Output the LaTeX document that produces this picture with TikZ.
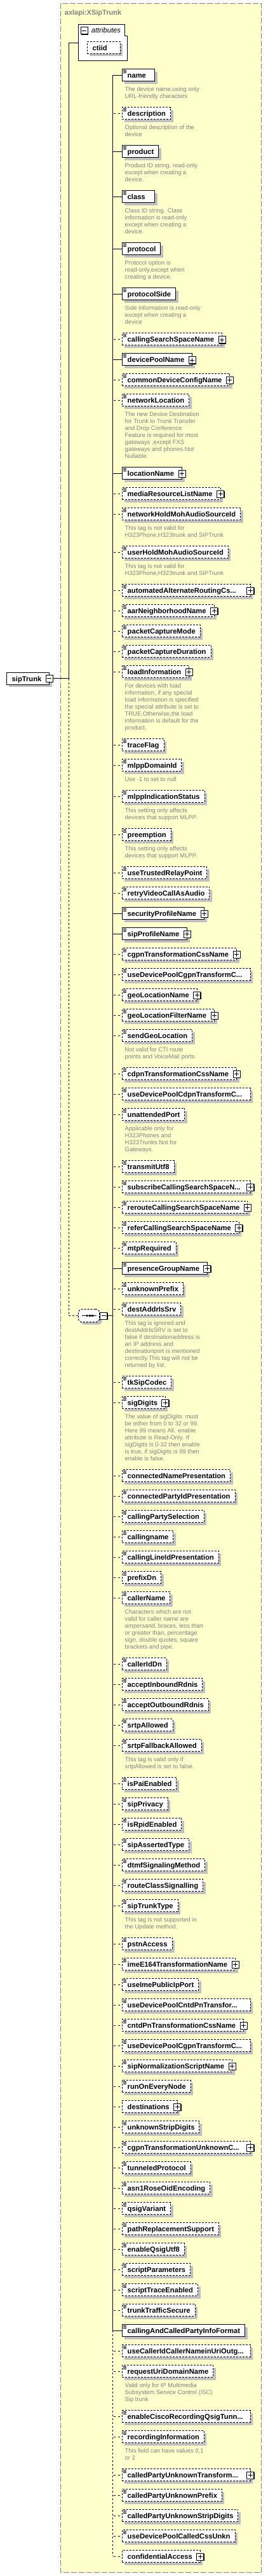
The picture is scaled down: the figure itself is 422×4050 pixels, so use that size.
\documentclass[tikz,border=0pt]{standalone}
\usepackage{fontspec}
\setmainfont{Liberation Sans}
\usetikzlibrary{shadows}
\definecolor{bgy}{RGB}{255,255,204}
\definecolor{shd}{RGB}{192,192,192}
\definecolor{anng}{RGB}{128,128,128}
\definecolor{brd}{RGB}{128,128,128}
\newlength\elw
\newcommand\eltext[3]{\settowidth\elw{\hspace*{8.4pt}#1\hspace*{#2}}\ifdim\elw<#3\relax\elw=#3\relax\fi\makebox[\elw][l]{\hspace*{8.4pt}#1}}
\tikzset{
 elem/.style={draw, fill=white, line width=1pt, anchor=west, minimum height=19pt, inner sep=0pt, outer sep=0pt, text height=8.6pt, text depth=0pt, font=\fontsize{11.2}{13}\selectfont\bfseries, drop shadow={shadow xshift=4pt, shadow yshift=-4pt, fill=shd, opacity=1}},
 elS/.style={},
 elD/.style={dash pattern=on 3pt off 2pt},
 cS/.style={line width=1pt},
 cD/.style={line width=1pt, dash pattern=on 3pt off 4pt, dash phase=5.5pt},
 vdash/.style={line width=1pt, dash pattern=on 3pt off 3pt},
 annot/.style={anchor=north west, inner sep=0pt, outer sep=0pt, align=left, text=anng, font=\fontsize{9.4}{11}\selectfont},
 pmbox/.style={fill=white, draw=black, line width=1pt},
 outerbox/.style={fill=bgy, draw=brd, line width=1pt, dash pattern=on 9pt off 3pt},
}
\newcommand\xplus[1]{%
 \fill[black] ([yshift=-0.7pt]#1.east) ++(-4.5,-6.5) rectangle ++(11,11);
 \draw[pmbox] ([yshift=-0.7pt]#1.east) ++(-5.5,-5.5) rectangle ++(11,11);
 \draw[line width=1pt] ([yshift=-0.7pt]#1.east) ++(-3.5,0) -- ++(7,0);
 \draw[line width=1pt] ([yshift=-0.7pt]#1.east) ++(0,-3.5) -- ++(0,7);}
\newcommand\xminus[1]{%
 \fill[black] #1 ++(-4.5,-6.5) rectangle ++(11,11);
 \draw[pmbox] #1 ++(-5.5,-5.5) rectangle ++(11,11);
 \draw[line width=1pt] #1 ++(-3.5,0) -- ++(7,0);}
\newcommand\xicon[1]{\foreach \k in {1.8,3.6,5.4}{\draw[line width=0.8pt] ([xshift=1.7pt,yshift=-\k pt]#1.north west) -- ++(5.3,0);}}
\def\kdN{\def\padR{7.5pt}\def\minW{51.4pt}\def\pf{N}}
\def\kdP{\def\padR{12.5pt}\def\minW{51.4pt}\def\pf{P}}
\def\kdT{\def\padR{7.5pt}\def\minW{201.7pt}\def\pf{N}}
\def\kdQ{\def\padR{7.5pt}\def\minW{201.7pt}\def\pf{P}}
\def\pbN#1{}
\def\pbP#1{\xplus{#1}}
\def\icI#1{\xicon{#1}}
\def\icX#1{}
\newcommand\xel[6][I]{%
 \csname kd#5\endcsname
 \node[elem, el#4] (#2) at (192.3,-#3) {\eltext{#6}{\padR}{\minW}};
 \draw[c#4] (#2.west -| bus) -- (#2.west);
 \csname pb\pf\endcsname{#2}%
 \csname ic#1\endcsname{#2}%
}
\newcommand\xann[3]{\node[annot] (#1) at (196.7,{-(#2+17.3)}) {\rule{0pt}{8pt}#3};}
\begin{document}
\begin{tikzpicture}[x=1pt,y=1pt]
\useasboundingbox (0,0) rectangle (422,-4050);
\draw[outerbox] (95.3,-5.3) rectangle (411.7,-4044.7);
\node[anchor=base west, inner sep=0pt, text=anng, font=\fontsize{11}{13}\selectfont\bfseries] (title) at (101.7,-23.3) {axlapi:XSipTrunk};
% attributes
\node[minimum width=77.4pt, minimum height=57.4pt, inner sep=0pt, outer sep=0pt, anchor=north west] (attr) at (123.3,-38.3) {};
\draw[fill=white, line width=1pt] (attr.south west) |- ([xshift=-4pt]attr.north east) |- ([yshift=-18.4pt]attr.north east) -- (attr.south east) -- cycle;
\xminus{(132.7,-48)}
\node[anchor=base west, inner sep=0pt, font=\fontsize{11.2}{13}\selectfont\itshape] (attrlbl) at (143.7,-51.7) {attributes};
\node[elem, elD] (ctiid) at (137.3,-74.8) {\eltext{ctiid}{7.5pt}{51.7pt}};
% root
\coordinate (busA) at (108.3,-67);
\coordinate (bus) at (177.7,-118);
\node[elem] (root) at (10.3,-1066.8) {\eltext{sipTrunk}{12.5pt}{0pt}};
\node[draw, fill=white, line width=1pt, dash pattern=on 3pt off 2pt, minimum width=33.4pt, minimum height=20.4pt, inner sep=0pt, outer sep=0pt, rounded corners=6pt, drop shadow={shadow xshift=4pt, shadow yshift=-4pt, fill=shd, opacity=1}] (seq) at (140,-2068.5) {};
\draw[line width=1pt] (busA) -- (attr.west);
\draw[line width=1pt] (busA) -- (busA |- root.east);
\draw[line width=1pt] (root.east) -- (root.east -| busA);
\draw[vdash] (busA |- root.east) -- (busA |- seq.west);
\draw[vdash] (seq.west -| busA) -- (seq.west);
\draw[line width=1pt] (seq.east) -- (seq.east -| bus);
\xminus{(root.east)}
\draw[line width=1pt] ([xshift=-11.3pt]seq.center) -- ([xshift=11.7pt]seq.center);
\foreach \d in {-3,1.3,5.6}{\fill ([xshift=\d pt]seq.center) ++(-1.4,-1.4) rectangle ++(2.8,2.8);}
\xminus{(163.2,-2068.5)}
% children
\xel{e1}{118}{S}{N}{name}
\xann{a1}{118}{The device name,using only\\URL-friendly characters}
\xel{e2}{178.3}{D}{N}{description}
\xann{a2}{178.3}{Optional description of the\\device}
\xel{e3}{238}{S}{N}{product}
\xann{a3}{238}{Product ID string, read-only\\except when creating a\\device.}
\xel{e4}{309.3}{S}{N}{class}
\xann{a4}{309.3}{Class ID string. Class\\information is read-only\\except when creating a\\device.}
\xel{e5}{391}{S}{N}{protocol}
\xann{a5}{391}{Protocol option is\\read-only,except when\\creating a device.}
\xel{e6}{462}{S}{N}{protocolSide}
\xann{a6}{462}{Side information is read-only\\except when creating a\\device}
\xel{e7}{533.3}{D}{P}{callingSearchSpaceName}
\xel{e8}{565.3}{S}{P}{devicePoolName}
\xel{e9}{597}{D}{P}{commonDeviceConfigName}
\xel{e10}{629}{D}{N}{networkLocation}
\xann{a10}{629}{The new Device Destination\\for Trunk to Trunk Transfer\\and Drop Conference\\Feature is required for most\\gateways ,except FXS\\gateways and phones.Not\\Nullable.}
\xel{e11}{744}{S}{P}{locationName}
\xel{e12}{776}{D}{P}{mediaResourceListName}
\xel{e13}{808}{D}{N}{networkHoldMohAudioSourceId}
\xann{a13}{808}{This tag is not valid for\\H323Phone,H323trunk and SIPTrunk}
\xel{e14}{868}{D}{N}{userHoldMohAudioSourceId}
\xann{a14}{868}{This tag is not valid for\\H323Phone,H323trunk and SIPTrunk}
\xel{e15}{928}{D}{Q}{automatedAlternateRoutingCs...}
\xel{e16}{960}{D}{P}{aarNeighborhoodName}
\xel{e17}{992}{D}{N}{packetCaptureMode}
\xel{e18}{1024}{D}{N}{packetCaptureDuration}
\xel{e19}{1056}{D}{P}{loadInformation}
\xann{a19}{1056}{For devices with load\\information, if any special\\load information is specified\\the special attribute is set to\\TRUE.Otherwise,the load\\information is default for the\\product.}
\xel{e20}{1171}{D}{N}{traceFlag}
\xel{e21}{1203}{D}{N}{mlppDomainId}
\xann{a21}{1203}{Use -1 to set to null}
\xel{e22}{1252}{D}{N}{mlppIndicationStatus}
\xann{a22}{1252}{This setting only affects\\devices that support MLPP.}
\xel{e23}{1312}{D}{N}{preemption}
\xann{a23}{1312}{This setting only affects\\devices that support MLPP.}
\xel{e24}{1372}{D}{N}{useTrustedRelayPoint}
\xel{e25}{1404}{D}{N}{retryVideoCallAsAudio}
\xel{e26}{1436}{S}{P}{securityProfileName}
\xel{e27}{1468}{S}{P}{sipProfileName}
\xel{e28}{1500}{D}{P}{cgpnTransformationCssName}
\xel{e29}{1532}{D}{T}{useDevicePoolCgpnTransformC...}
\xel{e30}{1564}{D}{P}{geoLocationName}
\xel{e31}{1596}{D}{P}{geoLocationFilterName}
\xel{e32}{1628}{D}{N}{sendGeoLocation}
\xann{a32}{1628}{Not valid for CTI route\\points and VoiceMail ports}
\xel{e33}{1688}{D}{P}{cdpnTransformationCssName}
\xel{e34}{1720}{D}{T}{useDevicePoolCdpnTransformC...}
\xel{e35}{1752}{D}{N}{unattendedPort}
\xann{a35}{1752}{Applicable only for\\H323Phones and\\H323Trunks.Not for\\Gateways.}
\xel{e36}{1834}{D}{N}{transmitUtf8}
\xel{e37}{1866}{D}{Q}{subscribeCallingSearchSpaceN...}
\xel{e38}{1898}{D}{P}{rerouteCallingSearchSpaceName}
\xel{e39}{1930}{D}{P}{referCallingSearchSpaceName}
\xel{e40}{1962}{D}{N}{mtpRequired}
\xel{e41}{1994}{S}{P}{presenceGroupName}
\xel{e42}{2026}{D}{N}{unknownPrefix}
\xel{e43}{2058}{D}{N}{destAddrIsSrv}
\xann{a43}{2058}{This tag is ignored and\\destAddrIsSRV is set to\\false if destinationaddress is\\an IP address and\\destinationport is mentioned\\correctly.This tag will not be\\returned by list.}
\xel{e44}{2173}{D}{N}{tkSipCodec}
\xel{e45}{2205}{D}{P}{sigDigits}
\xann{a45}{2205}{The value of sigDigits\ \ must\\be either from 0 to 32 or 99.\\Here 99 means All. enable\\attribute is Read-Only. If\\sigDigits is 0-32 then enable\\is true, if sigDigits is 99 then\\enable is false.}
\xel{e46}{2320}{D}{N}{connectedNamePresentation}
\xel{e47}{2352}{D}{N}{connectedPartyIdPresentation}
\xel{e48}{2384}{D}{N}{callingPartySelection}
\xel{e49}{2416}{D}{N}{callingname}
\xel{e50}{2448}{D}{N}{callingLineIdPresentation}
\xel{e51}{2480}{D}{N}{prefixDn}
\xel{e52}{2512}{D}{N}{callerName}
\xann{a52}{2512}{Characters which are not\\valid for caller name are\\ampersand, braces, less than\\or greater than, percentage\\sign, double quotes, square\\brackets and pipe.}
\xel{e53}{2616}{D}{N}{callerIdDn}
\xel{e54}{2648}{D}{N}{acceptInboundRdnis}
\xel{e55}{2680}{D}{N}{acceptOutboundRdnis}
\xel{e56}{2712}{D}{N}{srtpAllowed}
\xel{e57}{2744}{D}{N}{srtpFallbackAllowed}
\xann{a57}{2744}{This tag is valid only if\\srtpAllowed is set to false.}
\xel{e58}{2804}{D}{N}{isPaiEnabled}
\xel{e59}{2836}{D}{N}{sipPrivacy}
\xel{e60}{2868}{D}{N}{isRpidEnabled}
\xel{e61}{2900}{D}{N}{sipAssertedType}
\xel{e62}{2932}{D}{N}{dtmfSignalingMethod}
\xel{e63}{2964}{D}{N}{routeClassSignalling}
\xel{e64}{2996}{D}{N}{sipTrunkType}
\xann{a64}{2996}{This tag is not supported in\\the Update method.}
\xel{e65}{3056}{D}{N}{pstnAccess}
\xel{e66}{3088}{D}{P}{imeE164TransformationName}
\xel{e67}{3120}{D}{N}{useImePublicIpPort}
\xel{e68}{3152}{D}{T}{useDevicePoolCntdPnTransfor...}
\xel{e69}{3184}{D}{P}{cntdPnTransformationCssName}
\xel{e70}{3216}{D}{T}{useDevicePoolCgpnTransformC...}
\xel{e71}{3248}{D}{P}{sipNormalizationScriptName}
\xel{e72}{3280}{D}{N}{runOnEveryNode}
\xel[X]{e73}{3312}{D}{P}{destinations}
\xel{e74}{3344}{D}{N}{unknownStripDigits}
\xel{e75}{3376}{D}{Q}{cgpnTransformationUnknownC...}
\xel{e76}{3408}{D}{N}{tunneledProtocol}
\xel{e77}{3440}{D}{N}{asn1RoseOidEncoding}
\xel{e78}{3472}{D}{N}{qsigVariant}
\xel{e79}{3504}{D}{N}{pathReplacementSupport}
\xel{e80}{3536}{D}{N}{enableQsigUtf8}
\xel{e81}{3568}{D}{N}{scriptParameters}
\xel{e82}{3600}{D}{N}{scriptTraceEnabled}
\xel{e83}{3632}{D}{N}{trunkTrafficSecure}
\xel{e84}{3664}{S}{N}{callingAndCalledPartyInfoFormat}
\xel{e85}{3696}{D}{T}{useCallerIdCallerNameinUriOutg...}
\xel{e86}{3728}{D}{N}{requestUriDomainName}
\xann{a86}{3728}{Valid only for IP Multimedia\\Subsystem Service Control (ISC)\\Sip trunk}
\xel{e87}{3799}{D}{T}{enableCiscoRecordingQsigTunn...}
\xel{e88}{3831}{D}{N}{recordingInformation}
\xann{a88}{3831}{This field can have values 0,1\\or 2}
\xel{e89}{3891}{D}{Q}{calledPartyUnknownTransform...}
\xel{e90}{3923}{D}{N}{calledPartyUnknownPrefix}
\xel{e91}{3955}{D}{N}{calledPartyUnknownStripDigits}
\xel{e92}{3987}{D}{N}{useDevicePoolCalledCssUnkn}
\xel[X]{e93}{4019}{D}{P}{confidentialAccess}
% vertical bus of the sequence
\draw[line width=1pt] (e1.west -| bus) -- (e84.west -| bus);
\draw[vdash] (e84.west -| bus) -- (e93.west -| bus);
\end{tikzpicture}
\end{document}
